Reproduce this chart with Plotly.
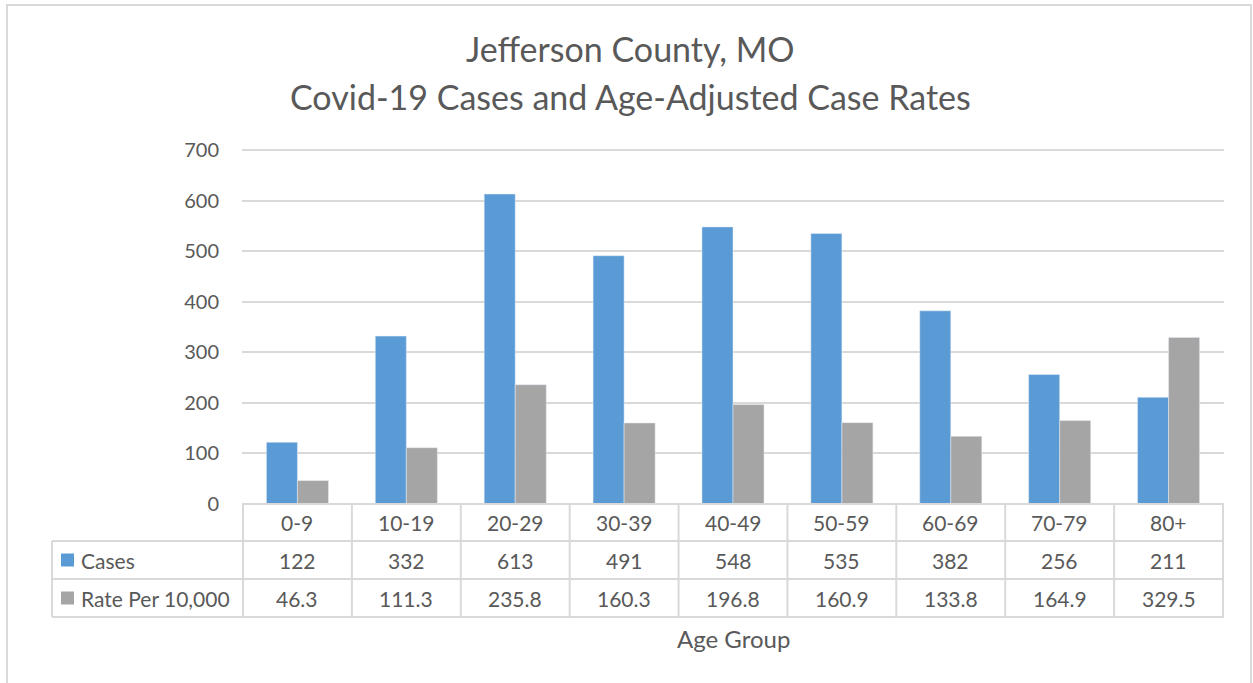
import plotly.graph_objects as go

age_groups = ["0-9", "10-19", "20-29", "30-39", "40-49", "50-59", "60-69", "70-79", "80+"]
cases = [122, 332, 613, 491, 548, 535, 382, 256, 211]
rate_per_10k = [46.3, 111.3, 235.8, 160.3, 196.8, 160.9, 133.8, 164.9, 329.5]
y_ticks = [0, 100, 200, 300, 400, 500, 600, 700]

BLUE = "#5B9BD5"
GRAY = "#A5A5A5"
TEXT = "#595959"
LINE = "#D9D9D9"
FONT = "Lato, Calibri, sans-serif"

W, H = 1253, 683
L, R, T, B = 242, 29, 148, 179
plot_w = W - L - R
plot_h = H - T - B


def px_x(px):
    # page pixel -> paper x
    return (px - L) / plot_w


def px_y(px):
    # page pixel -> paper y
    return (H - B - px) / plot_h


fig = go.Figure()
fig.add_trace(go.Bar(x=age_groups, y=cases, name="Cases", marker=dict(color=BLUE)))
fig.add_trace(go.Bar(x=age_groups, y=rate_per_10k, name="Rate Per 10,000", marker=dict(color=GRAY)))

# table geometry (row boundaries in page pixels)
row_edges = [504, 541, 579, 617]
left_col = 52

shapes = []
n = len(age_groups)
# horizontal table lines
shapes.append(dict(type="line", xref="paper", yref="paper", x0=0, x1=1,
                   y0=px_y(row_edges[0]), y1=px_y(row_edges[0]), line=dict(color=LINE, width=2)))
for r in row_edges[1:]:
    shapes.append(dict(type="line", xref="paper", yref="paper", x0=px_x(left_col), x1=1,
                       y0=px_y(r), y1=px_y(r), line=dict(color=LINE, width=2)))
# vertical lines at category boundaries
for i in range(n + 1):
    shapes.append(dict(type="line", xref="x", yref="paper", x0=i - 0.5, x1=i - 0.5,
                       y0=px_y(row_edges[0]), y1=px_y(row_edges[-1]), line=dict(color=LINE, width=2)))
shapes.append(dict(type="line", xref="paper", yref="paper", x0=px_x(left_col), x1=px_x(left_col),
                   y0=px_y(row_edges[1]), y1=px_y(row_edges[-1]), line=dict(color=LINE, width=2)))
# legend keys in the table
for k, color in enumerate([BLUE, GRAY]):
    yc = (row_edges[k + 1] + row_edges[k + 2]) / 2
    shapes.append(dict(type="rect", xref="paper", yref="paper", x0=px_x(61), x1=px_x(74),
                       y0=px_y(yc + 6.5), y1=px_y(yc - 6.5), line=dict(width=0), fillcolor=color))
# chart border
shapes.append(dict(type="rect", xref="paper", yref="paper", x0=px_x(7), x1=px_x(1251),
                   y0=px_y(695), y1=px_y(5), line=dict(color=LINE, width=2), layer="below"))

annotations = []
cell_font = dict(family=FONT, size=21, color=TEXT)
rows = [age_groups, [str(v) for v in cases], [f"{v:.1f}" for v in rate_per_10k]]
for r, vals in enumerate(rows):
    yc = (row_edges[r] + row_edges[r + 1]) / 2
    for i, v in enumerate(vals):
        annotations.append(dict(x=age_groups[i], y=px_y(yc), xref="x", yref="paper", text=v,
                                showarrow=False, font=cell_font, xanchor="center", yanchor="middle"))
for k, label in enumerate(["Cases", "Rate Per 10,000"]):
    yc = (row_edges[k + 1] + row_edges[k + 2]) / 2
    annotations.append(dict(x=px_x(79), y=px_y(yc), xref="paper", yref="paper", text=label,
                            showarrow=False, font=cell_font, xanchor="left", yanchor="middle"))
annotations.append(dict(x=0.5, y=px_y(638), xref="paper", yref="paper", text="Age Group",
                        showarrow=False, font=dict(family=FONT, size=24, color=TEXT),
                        xanchor="center", yanchor="middle"))
# two-line title
for text, yc in [("Jefferson County, MO", 48), ("Covid-19 Cases and Age-Adjusted Case Rates", 96)]:
    annotations.append(dict(x=px_x(630), y=px_y(yc), xref="paper", yref="paper", text=text,
                            showarrow=False, font=dict(family=FONT, size=34, color=TEXT),
                            xanchor="center", yanchor="middle"))

fig.update_layout(
    width=W, height=H,
    margin=dict(l=L, r=R, t=T, b=B),
    paper_bgcolor="white", plot_bgcolor="white",
    barmode="group", bargap=0.43, bargroupgap=0,
    showlegend=False,
    shapes=shapes,
    annotations=annotations,
    xaxis=dict(showticklabels=False, showgrid=False, zeroline=False, showline=False, ticks=""),
    yaxis=dict(range=[0, 704], tickvals=y_ticks, showgrid=True, gridcolor=LINE, gridwidth=1.5,
               zeroline=False, showline=False, ticklabelstandoff=22,
               tickfont=dict(family=FONT, size=20, color=TEXT)),
)

fig.write_html("out.html", config={"displayModeBar": False},
               post_script="document.body.style.margin = '0';")
